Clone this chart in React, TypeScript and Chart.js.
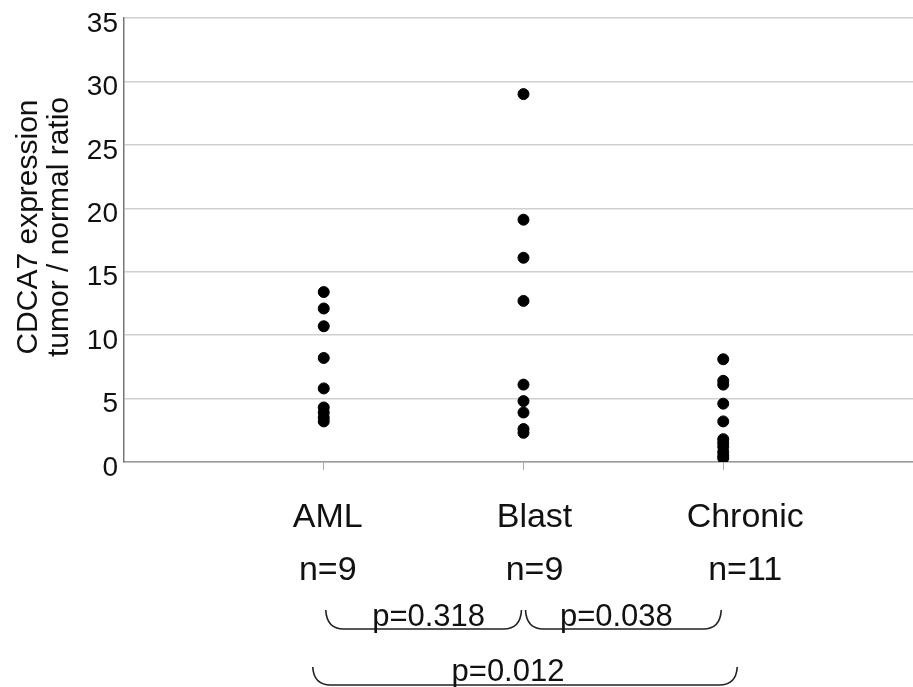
import React, { useEffect, useRef } from "react";
import { Chart, registerables } from "chart.js";

Chart.register(...registerables);

const categories = ["AML", "Blast", "Chronic"];
const amlValues = [13.4, 12.1, 10.7, 8.2, 5.8, 4.3, 3.9, 3.5, 3.2];
const blastValues = [29.0, 19.1, 16.1, 12.7, 6.1, 4.8, 3.9, 2.6, 2.3];
const chronicValues = [8.1, 6.4, 6.1, 4.6, 3.2, 1.8, 1.5, 1.2, 0.8, 0.5, 0.3];
const groupValues = [amlValues, blastValues, chronicValues];
const yTitleLines = ["CDCA7 expression", "tumor / normal ratio"];
const comparisons = [
  { from: 0, to: 1, p: "p=0.318", row: 0 },
  { from: 1, to: 2, p: "p=0.038", row: 0 },
  { from: 0, to: 2, p: "p=0.012", row: 1 },
];

const FONT = "'Liberation Sans', Arial, sans-serif";
const labelShift = [4, 11, 22];

export default function App() {
  const ref = useRef<HTMLCanvasElement | null>(null);

  useEffect(() => {
    document.body.style.margin = "0";
    const canvas = ref.current;
    if (!canvas) return;

    const points: { x: number; y: number }[] = [];
    groupValues.forEach((vals, i) => {
      vals.forEach((v) => points.push({ x: i + 1, y: v }));
    });

    const annotations = {
      id: "annotations",
      afterDraw(chart: any) {
        const ctx = chart.ctx;
        const xs = chart.scales.x;
        const area = chart.chartArea;
        ctx.save();
        // y title
        ctx.fillStyle = "#111";
        ctx.font = `30px ${FONT}`;
        ctx.textAlign = "center";
        ctx.textBaseline = "alphabetic";
        const titleY = (area.top + area.bottom) / 2 - 13;
        const baseX = [37, 68];
        yTitleLines.forEach((line, i) => {
          ctx.save();
          ctx.translate(baseX[i], titleY);
          ctx.rotate(-Math.PI / 2);
          ctx.fillText(line, 0, 0);
          ctx.restore();
        });
        // category names and n labels
        ctx.font = `34px ${FONT}`;
        groupValues.forEach((vals, i) => {
          const px = xs.getPixelForValue(i + 1) + labelShift[i];
          ctx.fillText(categories[i], px, 527);
          ctx.fillText(`n=${vals.length}`, px, 580);
        });
        // brackets
        ctx.strokeStyle = "#222";
        ctx.lineWidth = 1.6;
        comparisons.forEach((c) => {
          const a = xs.getPixelForValue(c.from + 1);
          const b = xs.getPixelForValue(c.to + 1);
          let x1: number, x2: number, yTop: number, yBot: number, ty: number;
          if (c.row === 0) {
            x1 = a + 2;
            x2 = b - 2;
            yTop = 610;
            yBot = 629;
            ty = 626;
          } else {
            x1 = a - 11;
            x2 = b + 14;
            yTop = 667;
            yBot = 685;
            ty = 681;
          }
          const r = 18;
          ctx.beginPath();
          ctx.moveTo(x1, yTop);
          ctx.quadraticCurveTo(x1 + 1, yBot, x1 + r, yBot);
          ctx.lineTo(x2 - r, yBot);
          ctx.quadraticCurveTo(x2 - 1, yBot, x2, yTop);
          ctx.stroke();
          ctx.font = `31px ${FONT}`;
          ctx.fillStyle = "#111";
          const mid = (x1 + x2) / 2;
          const off = c.row === 1 ? -17 : c.from === 0 ? 5 : -7;
          ctx.fillText(c.p, mid + off, ty);
        });
        ctx.restore();
      },
    };

    const chart = new Chart(canvas, {
      type: "scatter",
      data: {
        datasets: [
          {
            data: points,
            backgroundColor: "#000",
            borderColor: "#000",
            pointRadius: 5.5,
            pointHoverRadius: 5.5,
          },
        ],
      },
      options: {
        animation: false,
        responsive: false,
        events: [],
        layout: { autoPadding: false, padding: { top: 18, right: 0, left: 0, bottom: 0 } },
        plugins: {
          legend: { display: false },
          tooltip: { enabled: false },
        },
        scales: {
          x: {
            type: "linear",
            min: 0,
            max: 3.95,
            afterBuildTicks: (scale: any) => {
              scale.ticks = categories.map((_, i) => ({ value: i + 1 }));
            },
            afterFit: (scale: any) => {
              scale.height = 225;
              scale.paddingLeft = 0;
              scale.paddingRight = 0;
            },
            ticks: {
              autoSkip: false,
              maxRotation: 0,
              padding: 0,
              callback: () => "",
            },
            grid: {
              drawOnChartArea: false,
              drawTicks: true,
              tickLength: 8,
              color: "#aaa",
            },
            border: { color: "#999", width: 1.5 },
          },
          y: {
            min: 0,
            max: 35,
            afterFit: (scale: any) => {
              scale.width = 124;
              scale.paddingTop = 0;
              scale.paddingBottom = 0;
            },
            ticks: {
              stepSize: 5,
              padding: 6,
              labelOffset: 6,
              color: "#111",
              font: { family: FONT, size: 28 },
            },
            grid: {
              color: "#d0d0d0",
              lineWidth: 1.5,
              drawTicks: false,
            },
            border: { color: "#777", width: 1.5 },
          },
        },
      },
      plugins: [annotations],
    });

    return () => chart.destroy();
  }, []);

  return <canvas ref={ref} width={913} height={687} style={{ display: "block" }} />;
}
